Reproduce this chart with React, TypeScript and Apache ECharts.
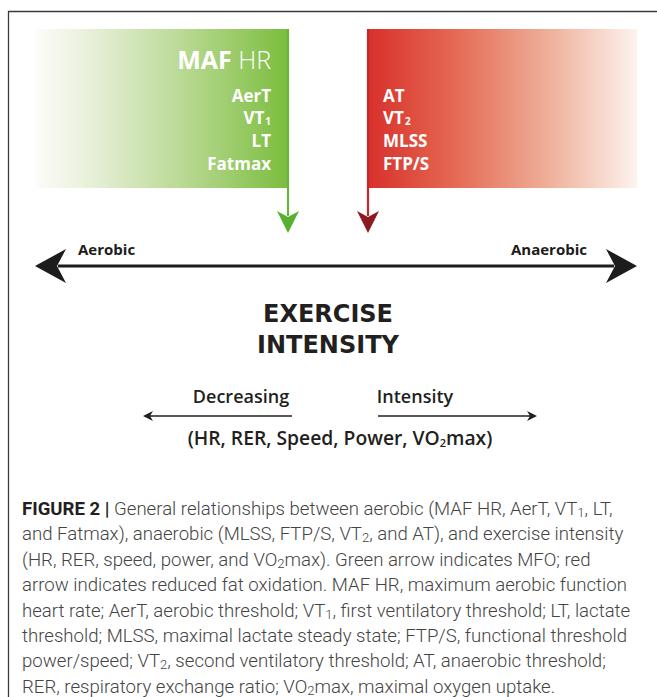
import React, { useEffect, useRef } from "react";
import * as echarts from "echarts";

const aerobicMarkers = ["AerT", "VT{ws|1}", "LT", "Fatmax"];
const anaerobicMarkers = ["AT", "VT{ws|2}", "MLSS", "FTP/S"];
const markerRowsY = [95, 117, 140, 163];
const axisEnds = ["Aerobic", "Anaerobic"];
const titleLines = ["EXERCISE", "INTENSITY"];
const directionWords = ["Decreasing", "Intensity"];
const variablesLine = "(HR, RER, Speed, Power, VO{ds|2}max)";
const captionLines = [
  "{b|FIGURE 2 |} General relationships between aerobic (MAF HR, AerT, VT{s|1}, LT,",
  "and Fatmax), anaerobic (MLSS, FTP/S, VT{s|2}, and AT), and exercise intensity",
  "(HR, RER, speed, power, and VO{s|2}max). Green arrow indicates MFO; red",
  "arrow indicates reduced fat oxidation. MAF HR, maximum aerobic function",
  "heart rate; AerT, aerobic threshold; VT{s|1}, first ventilatory threshold; LT, lactate",
  "threshold; MLSS, maximal lactate steady state; FTP/S, functional threshold",
  "power/speed; VT{s|2}, second ventilatory threshold; AT, anaerobic threshold;",
  "RER, respiratory exchange ratio; VO{s|2}max, maximal oxygen uptake.",
];

const DF = "'Open Sans', 'Noto Sans', sans-serif";
const TF = "'DejaVu Sans', sans-serif";
const CF = "Roboto, 'Liberation Sans', sans-serif";

function txt(x: number, y: number, text: string, s: any) {
  return {
    type: "text",
    x,
    y,
    silent: true,
    style: {
      text,
      align: s.align || "left",
      textAlign: s.align || "left",
      verticalAlign: "middle",
      textVerticalAlign: "middle",
      fontFamily: s.fontFamily || DF,
      fontSize: s.fontSize,
      fontWeight: s.fontWeight || "normal",
      fill: s.fill,
      lineHeight: s.lineHeight,
      rich: s.rich,
    },
  };
}

export default function App() {
  const ref = useRef<HTMLDivElement>(null);
  useEffect(() => {
    document.body.style.margin = "0";
    const chart = echarts.init(ref.current!, null, { renderer: "svg" });
    const elements: any[] = [];

    // frame
    elements.push({ type: "line", shape: { x1: 8, y1: 11.5, x2: 657, y2: 11.5 }, style: { stroke: "#3a3a3a", lineWidth: 1.3 } });
    elements.push({ type: "line", shape: { x1: 8.5, y1: 11, x2: 8.5, y2: 697 }, style: { stroke: "#3a3a3a", lineWidth: 1.3 } });

    // gradient boxes
    elements.push({
      type: "rect",
      shape: { x: 35, y: 29, width: 253, height: 159 },
      style: {
        fill: new echarts.graphic.LinearGradient(0, 0, 1, 0, [
          { offset: 0, color: "#fdfcf9" },
          { offset: 0.25, color: "#e4eed4" },
          { offset: 0.6, color: "#b7d890" },
          { offset: 1, color: "#7bbd3e" },
        ]),
      },
    });
    elements.push({
      type: "rect",
      shape: { x: 368, y: 29, width: 269, height: 159 },
      style: {
        fill: new echarts.graphic.LinearGradient(0, 0, 1, 0, [
          { offset: 0, color: "#d8302b" },
          { offset: 0.3, color: "#e4654f" },
          { offset: 0.65, color: "#eeab95" },
          { offset: 1, color: "#fdf3ee" },
        ]),
      },
    });

    // vertical arrows
    elements.push({ type: "line", shape: { x1: 288, y1: 29, x2: 288, y2: 216 }, style: { stroke: "#6cb33f", lineWidth: 2.2 } });
    elements.push({ type: "polygon", shape: { points: [[277, 211], [288, 217], [299, 211], [288, 233]] }, style: { fill: "#57b030" } });
    elements.push({ type: "line", shape: { x1: 368, y1: 29, x2: 368, y2: 216 }, style: { stroke: "#c3272c", lineWidth: 2.2 } });
    elements.push({ type: "polygon", shape: { points: [[357, 211], [368, 217], [379, 211], [368, 233]] }, style: { fill: "#8c1b1f" } });

    // MAF HR
    elements.push(
      txt(271, 59, "{b|MAF} {r|HR}", {
        align: "right",
        fontSize: 25,
        fill: "#fff",
        rich: {
          b: { fontFamily: DF, fontSize: 25, fontWeight: "bold", fill: "#fff" },
          r: { fontFamily: DF, fontSize: 25, fontWeight: 300, fill: "#fff" },
        },
      })
    );
    const markerRich = {
      ws: { fontFamily: DF, fontSize: 10, fontWeight: "bold", fill: "#fff", lineHeight: 19, padding: [8, 0, 0, 1] },
    };
    aerobicMarkers.forEach((m, i) =>
      elements.push(
        txt(271, markerRowsY[i], m, { align: "right", fontSize: 17, fontWeight: "bold", fill: "#fff", lineHeight: 19, rich: markerRich })
      )
    );
    anaerobicMarkers.forEach((m, i) =>
      elements.push(
        txt(383, markerRowsY[i], m, { align: "left", fontSize: 17, fontWeight: "bold", fill: "#fff", lineHeight: 19, rich: markerRich })
      )
    );

    // big double arrow
    elements.push({ type: "line", shape: { x1: 58, y1: 266, x2: 614, y2: 266 }, style: { stroke: "#1c1c1c", lineWidth: 3.2 } });
    elements.push({ type: "polygon", shape: { points: [[35, 266], [66, 249], [57, 266], [66, 283]] }, style: { fill: "#1c1c1c" } });
    elements.push({ type: "polygon", shape: { points: [[637, 266], [606, 249], [615, 266], [606, 283]] }, style: { fill: "#1c1c1c" } });
    elements.push(txt(78, 249, axisEnds[0], { fontSize: 15, fontWeight: "bold", fill: "#1c1c1c" }));
    elements.push(txt(587, 249, axisEnds[1], { align: "right", fontSize: 15, fontWeight: "bold", fill: "#1c1c1c" }));

    // title
    elements.push(txt(328, 314, titleLines[0], { align: "center", fontFamily: TF, fontSize: 24, fontWeight: "bold", fill: "#231f20" }));
    elements.push(txt(328, 345, titleLines[1], { align: "center", fontFamily: TF, fontSize: 24, fontWeight: "bold", fill: "#231f20" }));

    // direction
    elements.push(txt(241, 396, directionWords[0], { align: "center", fontSize: 18, fontWeight: 600, fill: "#231f20" }));
    elements.push(txt(415, 396, directionWords[1], { align: "center", fontSize: 18, fontWeight: 600, fill: "#231f20" }));
    elements.push({ type: "line", shape: { x1: 292, y1: 416, x2: 148, y2: 416 }, style: { stroke: "#231f20", lineWidth: 1.3 } });
    elements.push({ type: "polygon", shape: { points: [[143, 416], [153, 411], [150, 416], [153, 421]] }, style: { fill: "#231f20" } });
    elements.push({ type: "line", shape: { x1: 378, y1: 416, x2: 532, y2: 416 }, style: { stroke: "#231f20", lineWidth: 1.3 } });
    elements.push({ type: "polygon", shape: { points: [[537, 416], [527, 411], [530, 416], [527, 421]] }, style: { fill: "#231f20" } });
    elements.push(
      txt(340, 437, variablesLine, {
        align: "center",
        fontSize: 19.3,
        fontWeight: 600,
        fill: "#231f20",
        lineHeight: 24,
        rich: { ds: { fontFamily: DF, fontSize: 11, fontWeight: 600, fill: "#231f20", lineHeight: 24, padding: [10, 0, 0, 0] } },
      })
    );

    // caption
    const capRich = {
      b: { fontFamily: CF, fontSize: 18.6, fontWeight: "bold", fill: "#231f20", lineHeight: 24 },
      s: { fontFamily: CF, fontSize: 13, fontWeight: 300, fill: "#444", lineHeight: 24, padding: [7, 0, 0, 0] },
    };
    captionLines.forEach((l, i) =>
      elements.push(
        txt(22, 509 + i * 25.4, l, { fontFamily: CF, fontSize: 18.6, fontWeight: 300, fill: "#444", lineHeight: 24, rich: capRich })
      )
    );

    chart.setOption({ animation: false, graphic: { elements } });
    return () => chart.dispose();
  }, []);
  return <div ref={ref} style={{ width: 657, height: 697, background: "#fff" }} />;
}
